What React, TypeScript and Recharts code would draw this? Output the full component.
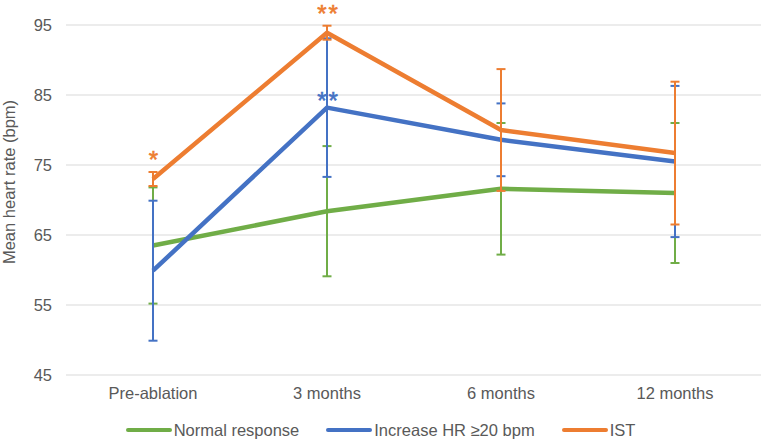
import React from "react";
import { LineChart, Line, XAxis, YAxis, CartesianGrid, Legend, ErrorBar, LabelList } from "recharts";

const categories = ["Pre-ablation", "3 months", "6 months", "12 months"];
const normalVals = [63.5, 68.4, 71.6, 71.0];
const normalErr = [8.3, 9.3, 9.4, 10.0];
const increaseVals = [59.9, 83.2, 78.6, 75.5];
const increaseErr = [10.0, 9.9, 5.2, 10.8];
const istVals = [73.0, 93.9, 80.0, 76.7];
const istErr = [1.0, 1.0, 8.7, 10.2];
const increaseSig = ["", "**", "", ""];
const istSig = ["*", "**", "", ""];
const yTicks = [45, 55, 65, 75, 85, 95];

const GREEN = "#70AD47";
const BLUE = "#4472C4";
const ORANGE = "#ED7D31";
const TEXT = "#595959";
const FONT = "'Liberation Sans', Arial, sans-serif";

const data = categories.map((c, i) => ({
  cat: c,
  normal: normalVals[i],
  normalErr: normalErr[i],
  increase: increaseVals[i],
  increaseErr: increaseErr[i],
  increaseSig: increaseSig[i],
  ist: istVals[i],
  istErr: istErr[i],
  istSig: istSig[i],
}));

const series = [
  { key: "normal", name: "Normal response", color: GREEN },
  { key: "increase", name: "Increase HR \u226520 bpm", color: BLUE },
  { key: "ist", name: "IST", color: ORANGE },
];

const makeSigLabel = (color: string, dy: number) => (props: any) => {
  const { x, y, value } = props;
  if (!value) return null;
  return (
    <text
      x={x + 1.5}
      y={y + dy}
      textAnchor="middle"
      fill={color}
      stroke={color}
      strokeWidth={0.6}
      fontSize={24}
      letterSpacing={2}
      fontFamily={FONT}
    >
      {value}
    </text>
  );
};

const LegendContent = () => (
  <div
    style={{
      display: "flex",
      justifyContent: "center",
      alignItems: "center",
      height: 20,
      fontFamily: FONT,
      fontSize: 16.5,
      color: TEXT,
    }}
  >
    {series.map((s, i) => (
      <div key={s.key} style={{ display: "flex", alignItems: "center", marginLeft: i === 0 ? 0 : 27 }}>
        <svg width={46} height={8} style={{ marginRight: 2 }}>
          <line x1={2} y1={4} x2={44} y2={4} stroke={s.color} strokeWidth={4} strokeLinecap="round" />
        </svg>
        <span style={{ lineHeight: "20px" }}>{s.name}</span>
      </div>
    ))}
  </div>
);

const YLabel = () => (
  <text
    x={9}
    y={182}
    transform="rotate(-90, 9, 182)"
    textAnchor="middle"
    dominantBaseline="central"
    fill={TEXT}
    fontSize={16.5}
    fontFamily={FONT}
  >
    Mean heart rate (bpm)
  </text>
);

export default function App() {
  return (
    <div style={{ position: "absolute", left: 0, top: 0, width: 762, height: 443, background: "#fff" }}>
      <LineChart width={762} height={443} data={data} margin={{ top: 25, right: 1, left: 0, bottom: 3 }}>
        <CartesianGrid vertical={false} stroke="#d9d9d9" strokeWidth={1} />
        <XAxis
          dataKey="cat"
          axisLine={false}
          tickLine={false}
          tickSize={0}
          tickMargin={12}
          height={45}
          padding={{ left: 87, right: 86 }}
          tick={{ fill: TEXT, fontSize: 16.5, fontFamily: FONT }}
          interval={0}
        />
        <YAxis
          domain={[45, 95]}
          ticks={yTicks}
          width={66}
          axisLine={false}
          tickLine={false}
          tickSize={0}
          tickMargin={14}
          tick={{ fill: TEXT, fontSize: 16.5, fontFamily: FONT }}
          label={<YLabel />}
        />
        <Legend verticalAlign="bottom" height={20} content={<LegendContent />} />
        <Line
          dataKey="normal"
          name="Normal response"
          stroke={GREEN}
          strokeWidth={4.5}
          dot={false}
          activeDot={false}
          isAnimationActive={false}
          strokeLinejoin="round"
        >
          <ErrorBar dataKey="normalErr" direction="y" width={4.5} stroke={GREEN} strokeWidth={2} isAnimationActive={false} />
        </Line>
        <Line
          dataKey="increase"
          name="Increase HR ≥20 bpm"
          stroke={BLUE}
          strokeWidth={4.5}
          dot={false}
          activeDot={false}
          isAnimationActive={false}
          strokeLinejoin="round"
        >
          <ErrorBar dataKey="increaseErr" direction="y" width={4.5} stroke={BLUE} strokeWidth={2} isAnimationActive={false} />
          <LabelList dataKey="increaseSig" content={makeSigLabel(BLUE, 1)} />
        </Line>
        <Line
          dataKey="ist"
          name="IST"
          stroke={ORANGE}
          strokeWidth={4.5}
          dot={false}
          activeDot={false}
          isAnimationActive={false}
          strokeLinejoin="round"
        >
          <ErrorBar dataKey="istErr" direction="y" width={4.5} stroke={ORANGE} strokeWidth={2} isAnimationActive={false} />
          <LabelList dataKey="istSig" content={makeSigLabel(ORANGE, -11)} />
        </Line>
      </LineChart>
    </div>
  );
}
